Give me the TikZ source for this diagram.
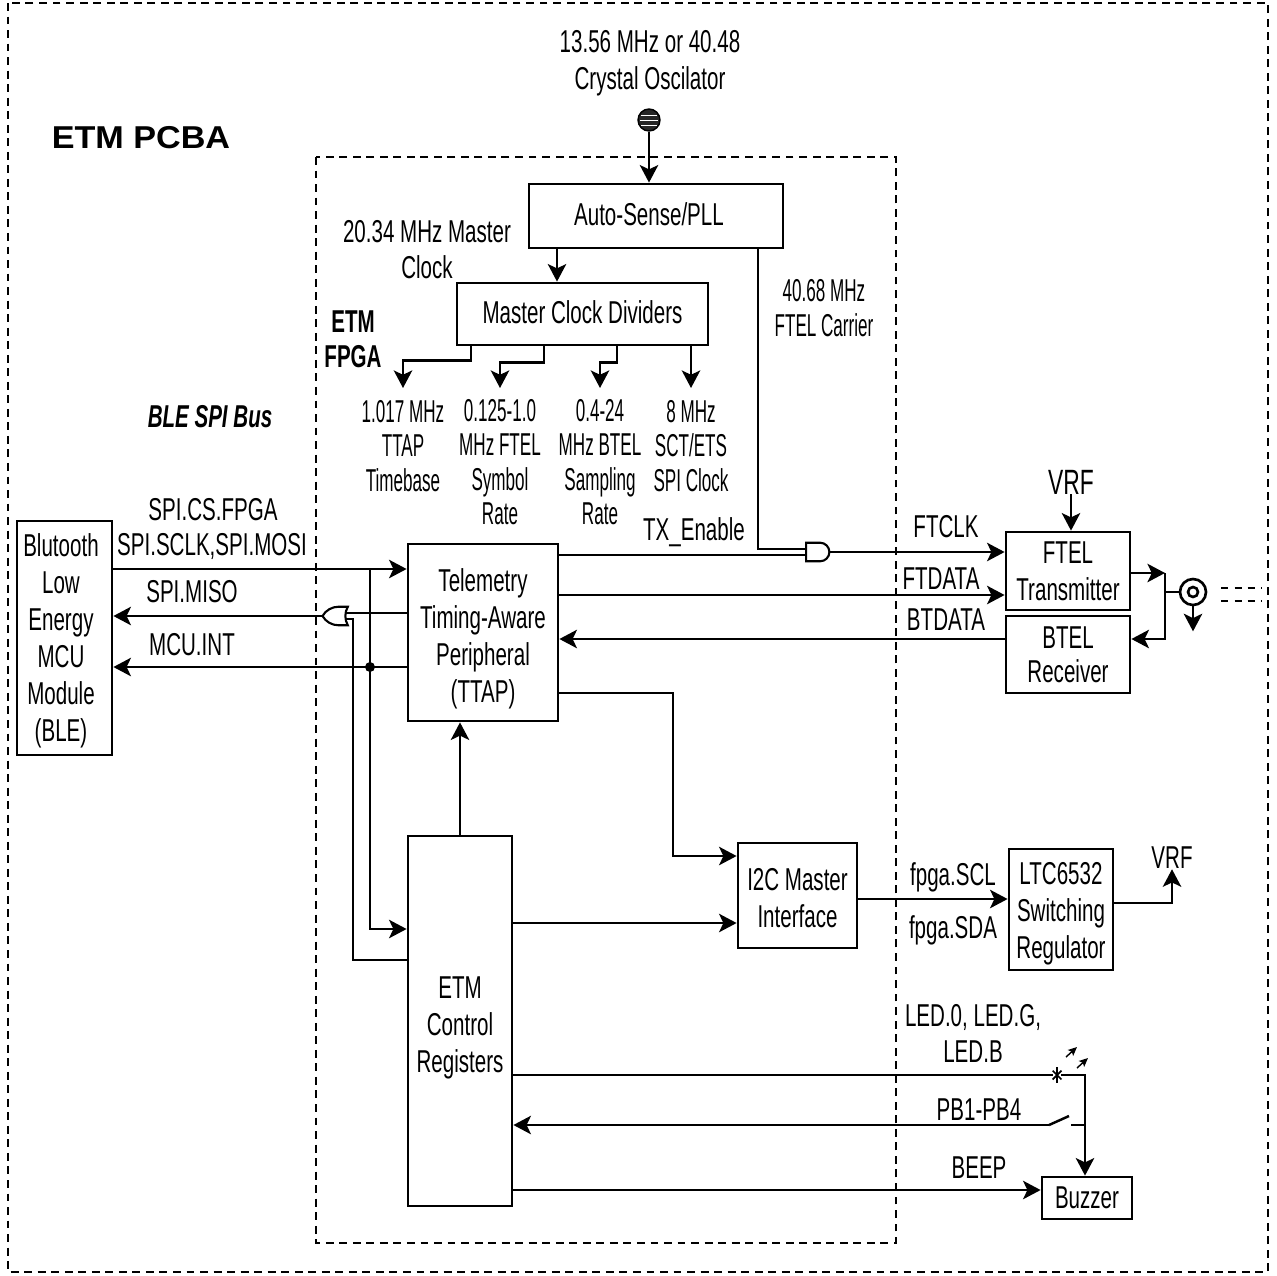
\documentclass[tikz,border=0pt]{standalone}
\usepackage{fontspec}
\setmainfont[FakeStretch=0.65]{Liberation Sans}
\newfontfamily\widefont[FakeStretch=1.08]{Liberation Sans}
\newfontfamily\narrowfont[FakeStretch=0.54]{Liberation Sans}
\newcommand{\topgap}[1]{\rule{0pt}{#1}}
\usetikzlibrary{arrows.meta, positioning, calc, shapes.misc, shapes.gates.logic.US}

\begin{document}
\begin{tikzpicture}[
  x=0.02cm, y=-0.02cm,
  box/.style={draw, line width=1.6pt, align=center, inner sep=0pt,
              font=\fontsize{18}{21}\selectfont},
  lbl/.style={align=center, inner sep=0pt, font=\fontsize{18}{20.5}\selectfont},
  nlbl/.style={align=center, inner sep=0pt, font=\fontsize{18}{19.6}\selectfont\narrowfont},
  ttl/.style={align=center, inner sep=0pt, font=\fontsize{18}{20}\selectfont\bfseries},
  wire/.style={line width=1.4pt},
  arr/.style={wire, -{Stealth[length=10pt,width=10.5pt,inset=2.5pt]}},
  tiny/.style={line width=0.8pt, -{Stealth[length=5pt,width=4.5pt,inset=1pt]}},
  frame/.style={line width=1.5pt, dash pattern=on 4.5pt off 3.2pt},
  gate/.style={draw, line width=1.2pt, logic gate inputs=nn, inner sep=0pt,
               scale=0.55, transform shape}
]
\useasboundingbox (0,0) rectangle (1277,1275);
% ----- frames -----
\coordinate (pcbatl) at (8,3);
\coordinate (pcbabr) at (1268,1272);
\coordinate (fpgatl) at (316,157);
\coordinate (fpgabr) at (896,1243);
\draw[frame] (pcbatl) rectangle (pcbabr);
\draw[frame] (fpgatl) rectangle (fpgabr);
\node[inner sep=0pt, font=\fontsize{18}{20}\selectfont\widefont\bfseries] (pcbattl) at (141,138) {ETM PCBA};
\node[ttl] (fpgattl) at (353,339) {ETM\\FPGA};
\node[ttl, font=\fontsize{18}{20}\selectfont\bfseries\itshape] (spittl) at (210,417) {BLE SPI Bus};
% ----- clock path -----
\node[lbl, font=\fontsize{18}{21.3}\selectfont] (xtallbl) at (650,63.5) {13.56 MHz or 40.48\\Crystal Oscilator};
\node[circle, draw, fill=black!85, line width=0.8pt, minimum size=0.44cm, inner sep=0pt] (xtal) at (649,120) {};
\draw[white, line width=0.5pt] ($(xtal)+(-8,-5)$) -- ($(xtal)+(8,-5)$);
\draw[white, line width=0.5pt] ($(xtal)+(-9,0)$) -- ($(xtal)+(9,0)$);
\draw[white, line width=0.5pt] ($(xtal)+(-8,5)$) -- ($(xtal)+(8,5)$);
\node[box, minimum width=5.08cm, minimum height=1.28cm] (pll) at (656,216) {\hspace*{-8pt}\raisebox{2.3pt}{Auto-Sense/PLL}};
\node[box, minimum width=5.02cm, minimum height=1.24cm] (mcd) at (582.5,314) {\raisebox{1.7pt}{Master Clock Dividers}};
\node[lbl] (mclbl) at (427,250) {20.34 MHz Master\\Clock};
\node[nlbl] (carlbl) at (824,308) {40.68 MHz\\FTEL Carrier};
\draw[arr] (xtal) -- (xtal |- pll.north);
\coordinate (xmc) at (557,0);
\draw[arr] (xmc |- pll.south) -- (xmc |- mcd.north);
% ----- divider outputs -----
\node[nlbl] (d1) at (403,446) {1.017 MHz\\TTAP\\Timebase};
\node[nlbl] (d2) at (500,462) {0.125-1.0\\MHz FTEL\\Symbol\\Rate};
\node[nlbl] (d3) at (600,462) {0.4-24\\MHz BTEL\\Sampling\\Rate};
\node[nlbl] (d4) at (691,446) {8 MHz\\SCT/ETS\\SPI Clock};
\coordinate (yd) at (0,388);
\coordinate (xd1) at (471,0);
\coordinate (xd2) at (544,0);
\coordinate (xd3) at (617,0);
\draw[arr] (xd1 |- mcd.south) -- ++(0,14) -| (d1.north |- yd);
\draw[arr] (xd2 |- mcd.south) -- ++(0,16) -| (d2.north |- yd);
\draw[arr] (xd3 |- mcd.south) -- ++(0,16) -| (d3.north |- yd);
\draw[arr] (d4.north |- mcd.south) -- (d4.north |- yd);
% ----- telemetry -----
\node[box, minimum width=3cm, minimum height=3.54cm] (ttap) at (483,632.5) {\topgap{20pt}Telemetry\\Timing-Aware\\Peripheral\\(TTAP)};
\node[box, minimum width=2.48cm, minimum height=1.56cm] (ftx) at (1068,571) {FTEL\\Transmitter};
\node[box, font=\fontsize{18}{19.5}\selectfont, minimum width=2.48cm, minimum height=1.54cm] (brx) at (1068,654.5) {BTEL\\Receiver};
\node[and gate US, gate] (andg) at (817,552) {};
\node[lbl] (txlbl) at (694,532) {TX\_Enable};
\node[lbl] (clklbl) at (946,527) {FTCLK};
\node[lbl] (datlbl) at (941,579) {FTDATA};
\node[lbl] (btdlbl) at (946,620) {BTDATA};
\node[lbl, font=\fontsize{20}{22}\selectfont] (vrf1) at (1071,482) {VRF};
\coordinate (xcar) at (758,0);
\coordinate (yftd) at (0,595);
\coordinate (ybtd) at (0,639);
\draw[wire] (xcar |- pll.south) |- (andg.input 1);
\draw[wire] (ttap.east |- andg.input 2) -- (andg.input 2);
\draw[arr] (andg.output) -- (ftx.west |- andg.output);
\draw[arr] (ttap.east |- yftd) -- (ftx.west |- yftd);
\draw[arr] (brx.west |- ybtd) -- (ttap.east |- ybtd);
\draw[arr] (vrf1.south) -- (ftx.north -| vrf1.south);
% ----- antenna -----
\node[circle, draw, line width=1.5pt, minimum size=0.52cm, inner sep=0pt] (ant) at (1193,592) {};
\node[circle, draw, line width=1.5pt, minimum size=0.2cm, inner sep=0pt] (anti) at (ant.center) {};
\coordinate (xtr) at (1165,0);
\coordinate (ytx) at (0,573);
\draw[arr] (ftx.east |- ytx) -- (xtr |- ytx);
\draw[arr] (xtr |- ytx) |- (brx.east |- ybtd);
\draw[wire] (xtr |- ant) -- (ant.west);
\draw[arr] (ant.south) -- ++(0,25);
\draw[wire, dash pattern=on 4pt off 3.5pt] ($(ant.east)+(14,-4)$) -- ++(40,0);
\draw[wire, dash pattern=on 4pt off 3.5pt] ($(ant.east)+(14,9)$) -- ++(40,0);
% ----- BLE bus -----
\node[box, minimum width=1.9cm, minimum height=4.68cm] (ble) at (64.5,638) {\topgap{16pt}\hspace*{-4pt}Blutooth\\\hspace*{-4pt}Low\\\hspace*{-4pt}Energy\\\hspace*{-4pt}MCU\\\hspace*{-4pt}Module\\\hspace*{-4pt}(BLE)};
\node[or gate US, gate, rotate=180] (org) at (337,616) {};
\node[lbl] (l1) at (213,510) {SPI.CS.FPGA};
\node[lbl] (l2) at (212,546) {SPI.SCLK,SPI.MOSI};
\node[lbl] (l3) at (192,592) {SPI.MISO};
\node[lbl] (l4) at (192,645) {MCU.INT};
\coordinate (ycs) at (0,569);
\coordinate (yint) at (0,667);
\coordinate (xcs) at (370,0);
\coordinate (xmiso) at (353,0);
\coordinate (yarr) at (0,929);
\coordinate (yret) at (0,960);
\node[circle, fill=black, minimum size=0.2cm, inner sep=0pt] (jct) at (xcs |- yint) {};
% ----- registers and I2C -----
\node[box, minimum width=2.08cm, minimum height=7.4cm] (regs) at (460,1021) {\topgap{20pt}ETM\\Control\\Registers};
\node[box, minimum width=2.38cm, minimum height=2.1cm] (i2c) at (797.5,895.5) {\topgap{16pt}I2C Master\\Interface};
\node[box, minimum width=2.08cm, minimum height=2.42cm] (ltc) at (1061,909.5) {\topgap{17pt}LTC6532\\Switching\\Regulator};
\node[lbl] (scl) at (953,877) {fpga.SCL};
\node[lbl] (sda) at (953,930) {fpga.SDA};
\node[lbl] (vrf2) at (1172,858) {VRF};
\draw[arr] (ble.east |- ycs) -- (ttap.west |- ycs);
\draw[arr] (org.output) -- (ble.east |- org.output);
\draw[arr] (ttap.west |- yint) -- (ble.east |- yint);
\draw[wire] (ttap.west |- org.input 2) -- (org.input 2);
\draw[wire] (org.input 1) -| (xmiso |- yret) -- (regs.west |- yret);
\draw[arr] (xcs |- ycs) |- (regs.west |- yarr);
\coordinate (xup) at (460,0);
\draw[arr] (xup |- regs.north) -- (xup |- ttap.south);
\coordinate (yi2c) at (0,923);
\coordinate (yout) at (0,693);
\coordinate (xout) at (673,0);
\coordinate (yin) at (0,856);
\coordinate (yscl) at (0,899);
\coordinate (yltc) at (0,903);
\draw[arr] (ttap.east |- yout) -| (xout |- yin) -- (i2c.west |- yin);
\draw[arr] (regs.east |- yi2c) -- (i2c.west |- yi2c);
\draw[arr] (i2c.east |- yscl) -- (ltc.west |- yscl);
\draw[arr] (ltc.east |- yltc) -| (vrf2.south);
% ----- LED, buttons, buzzer -----
\node[box, minimum width=1.8cm, minimum height=0.84cm] (bzr) at (1087,1198) {Buzzer};
\node[lbl] (ledlbl) at (973,1033) {LED.0, LED.G,\\LED.B};
\node[lbl] (pblbl) at (979,1110) {PB1-PB4};
\node[lbl] (beeplbl) at (979,1168) {BEEP};
\node[cross out, draw, line width=1pt, minimum size=0.14cm, inner sep=0pt] (led) at (1057,1075) {};
\coordinate (yled) at (0,1075);
\coordinate (ypb) at (0,1125);
\coordinate (ybeep) at (0,1190);
\coordinate (xbz) at (1085,0);
\coordinate (swa) at (1049,1125);
\coordinate (swb) at (1069,1116);
\coordinate (swc) at (1071,1125);
\draw[line width=1pt] ($(led)+(0,-8)$) -- ($(led)+(0,8)$);
\draw[tiny] ($(led)+(9,-18)$) -- ++(11,-10);
\draw[tiny] ($(led)+(20,-7)$) -- ++(11,-10);
\draw[wire] (regs.east |- yled) -- (led);
\draw[arr] (led) -| (xbz |- bzr.north);
\draw[arr] (swa) -- (regs.east |- ypb);
\draw[wire] (swa) -- (swb);
\draw[wire] (swc) -- (xbz |- swc);
\draw[arr] (regs.east |- ybeep) -- (bzr.west |- ybeep);
\end{tikzpicture}
\end{document}
